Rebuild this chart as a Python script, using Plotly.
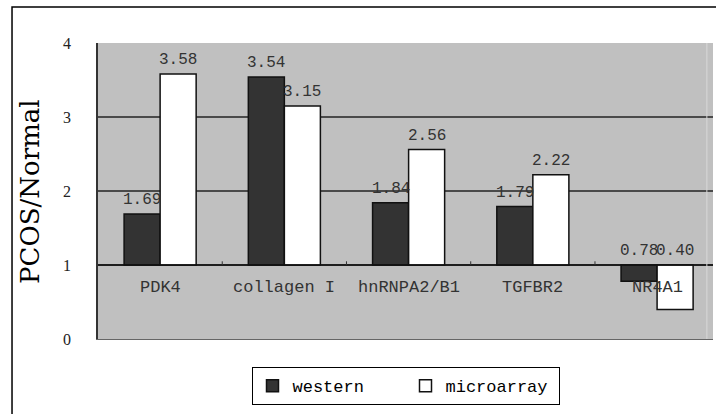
import plotly.graph_objects as go

# Expression ratios (PCOS / Normal) per gene
genes = ["PDK4", "collagen I", "hnRNPA2/B1", "TGFBR2", "NR4A1"]
western = [1.69, 3.54, 1.84, 1.79, 0.78]
microarray = [3.58, 3.15, 2.56, 2.22, 0.40]
y_ticks = [0, 1, 2, 3, 4]

BASE = 1.0
BAR_W = 0.29
pos = list(range(len(genes)))

mono = "Liberation Mono"
serif = "Liberation Serif"

fig = go.Figure()

fig.add_trace(go.Bar(
    name="western", x=pos, y=[v - BASE for v in western], base=BASE,
    offset=-BAR_W, width=BAR_W,
    marker=dict(color="#333333", line=dict(color="#111111", width=1.5)),
    hoverinfo="skip",
))
fig.add_trace(go.Bar(
    name="microarray", x=pos, y=[v - BASE for v in microarray], base=BASE,
    offset=0, width=BAR_W,
    marker=dict(color="#ffffff", line=dict(color="#111111", width=1.5)),
    hoverinfo="skip",
))

annotations = []
# value labels above each bar (above the baseline for ratios below 1)
for series, shift in ((western, -BAR_W / 2), (microarray, BAR_W / 2)):
    for i, v in enumerate(series):
        annotations.append(dict(
            x=i + shift, y=max(v, BASE), xref="x", yref="y",
            text=f"{v:.2f}", showarrow=False, yanchor="bottom", yshift=3,
            font=dict(family=mono, size=16, color="#333333"),
        ))
# gene names just under the baseline
for i, g in enumerate(genes):
    annotations.append(dict(
        x=i, y=BASE, xref="x", yref="y", text=g, showarrow=False,
        yanchor="middle", yshift=-22,
        font=dict(family=mono, size=17, color="#333333"),
    ))
# axis title
annotations.append(dict(
    x=-0.1106, y=0.5, xref="paper", yref="paper", text="PCOS/Normal",
    textangle=-90, showarrow=False, xanchor="center", yanchor="middle",
    font=dict(family="DejaVu Serif", size=26, color="#000000"),
))

shapes = [
    # baseline at ratio 1
    dict(type="line", xref="paper", yref="y", x0=0, x1=1, y0=BASE, y1=BASE,
         line=dict(color="#111111", width=1.5)),
    # right edge of the shaded plot area
    dict(type="line", xref="paper", yref="paper", x0=0.99, x1=0.99, y0=0, y1=1,
         line=dict(color="#d8d8d8", width=1)),
    # outer chart frame
    dict(type="rect", xref="paper", yref="paper", x0=-0.1398, x1=1.2,
         y0=-0.5, y1=1.1216, line=dict(color="#000000", width=1.5),
         layer="below"),
]
# category separator ticks on the baseline
for i in pos[:-1]:
    shapes.append(dict(type="line", xref="x", yref="y", x0=i + 0.5, x1=i + 0.5,
                       y0=BASE, y1=BASE + 0.05,
                       line=dict(color="#333333", width=1)))

fig.update_layout(
    width=716, height=414,
    margin=dict(l=98, r=3, t=43, b=75),
    paper_bgcolor="#ffffff",
    plot_bgcolor="#c0c0c0",
    barmode="overlay",
    showlegend=True,
    legend=dict(
        orientation="h", x=0.5, xanchor="center", y=-0.095, yanchor="top",
        bgcolor="#ffffff", bordercolor="#000000", borderwidth=1,
        font=dict(family=mono, size=17, color="#000000"),
        itemwidth=30, entrywidth=108, entrywidthmode="pixels",
        tracegroupgap=0,
    ),
    xaxis=dict(
        range=[-0.5, 4.45], showticklabels=False, showgrid=False,
        zeroline=False, showline=True, linecolor="#666666", linewidth=1,
        ticks="", fixedrange=True,
    ),
    yaxis=dict(
        range=[0, 4], tickvals=y_ticks, ticktext=[str(t) for t in y_ticks],
        showgrid=True, gridcolor="#4a4a4a", gridwidth=1.5,
        zeroline=False, showline=True, linecolor="#333333", linewidth=1.5,
        ticks="", ticklabelstandoff=22,
        tickfont=dict(family=serif, size=16, color="#222222"),
        fixedrange=True,
    ),
    annotations=annotations,
    shapes=shapes,
)

fig.write_html("out.html")
